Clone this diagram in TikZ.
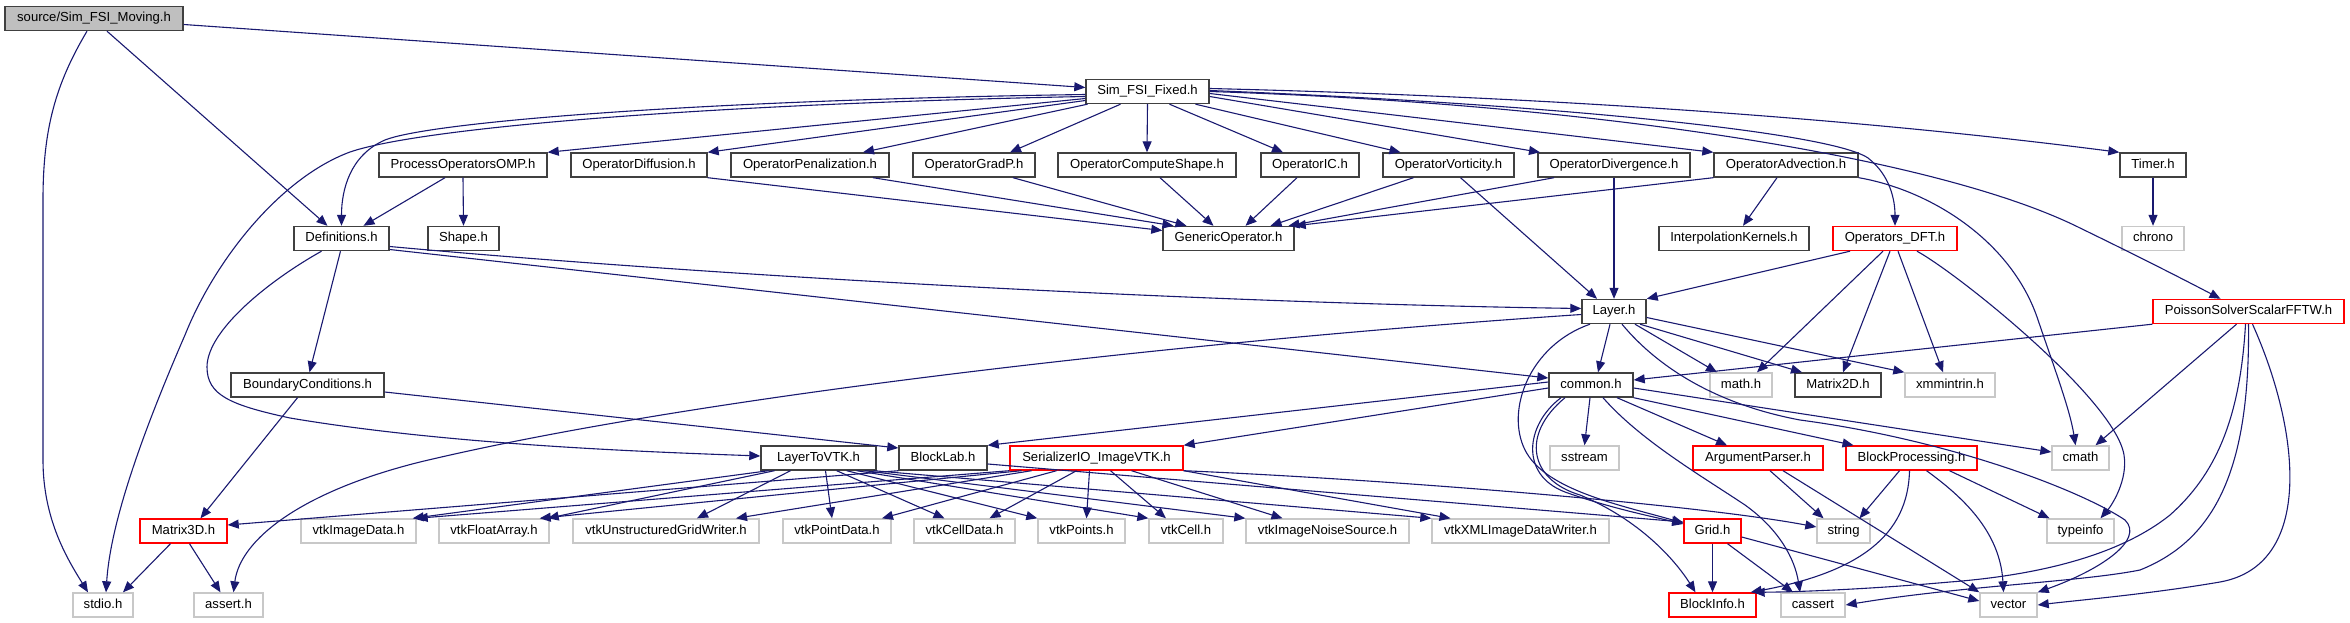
\documentclass[tikz,border=0pt]{standalone}
\usepackage{fontspec}
\setmainfont{Liberation Sans}
\usetikzlibrary{arrows.meta}
\definecolor{edgec}{RGB}{25,25,112}
\definecolor{bordc}{RGB}{64,64,64}
\definecolor{rootfill}{RGB}{191,191,191}
\definecolor{lightc}{RGB}{200,200,200}
\begin{document}
\begin{tikzpicture}[x=1pt,y=-1pt,
  nb/.style={draw=bordc, line width=1.4pt, fill=white, minimum height=24pt, inner sep=0pt,
    font=\fontsize{13.1pt}{15pt}\selectfont, text height=9.6pt, text depth=2.8pt},
  ng/.style={nb, draw=lightc},
  nr/.style={nb, draw=red},
  dep/.style={draw=edgec, line width=1.1pt, -{Triangle[length=11pt,width=9pt]}}]
\useasboundingbox (0,0) rectangle (2350,623);
% row 0-1
\node[nb,fill=rootfill,minimum width=178pt] (M) at (94,18.5) {source/Sim\_FSI\_Moving.h};
\node[nb,minimum width=123pt] (F) at (1147.5,91.5) {Sim\_FSI\_Fixed.h};
% row 2
\node[nb,minimum width=168pt] (pom) at (463,165) {ProcessOperatorsOMP.h};
\node[nb,minimum width=136pt] (odiff) at (639,165) {OperatorDiffusion.h};
\node[nb,minimum width=158pt] (open) at (810,165) {OperatorPenalization.h};
\node[nb,minimum width=122pt] (ograd) at (974,165) {OperatorGradP.h};
\node[nb,minimum width=178pt] (ocomp) at (1147,165) {OperatorComputeShape.h};
\node[nb,minimum width=98pt] (oic) at (1310,165) {OperatorIC.h};
\node[nb,minimum width=131pt] (ovort) at (1448.5,165) {OperatorVorticity.h};
\node[nb,minimum width=152pt] (odiv) at (1614,165) {OperatorDivergence.h};
\node[nb,minimum width=144pt] (oadv) at (1786,165) {OperatorAdvection.h};
\node[nb,minimum width=66pt] (timer) at (2153,165) {Timer.h};
% row 3
\node[nb,minimum width=95pt] (defs) at (341.5,238.5) {Definitions.h};
\node[nb,minimum width=71pt] (shape) at (463.5,238.5) {Shape.h};
\node[nb,minimum width=131pt] (gen) at (1228.5,238.5) {GenericOperator.h};
\node[nb,minimum width=150pt] (interp) at (1734,238.5) {InterpolationKernels.h};
\node[nr,minimum width=124pt] (dft) at (1895,238.5) {Operators\_DFT.h};
\node[ng,minimum width=62pt] (chrono) at (2153,238.5) {chrono};
% row 4
\node[nb,minimum width=64pt] (layer) at (1614,311.5) {Layer.h};
\node[nr,minimum width=191pt] (poisson) at (2248.5,311.5) {PoissonSolverScalarFFTW.h};
% row 5
\node[nb,minimum width=153pt] (bc) at (307.5,385) {BoundaryConditions.h};
\node[nb,minimum width=84pt] (common) at (1591,385) {common.h};
\node[ng,minimum width=62pt] (math) at (1741,385) {math.h};
\node[nb,minimum width=86pt] (m2d) at (1838,385) {Matrix2D.h};
\node[ng,minimum width=90pt] (xmm) at (1950,385) {xmmintrin.h};
% row 6
\node[nb,minimum width=115pt] (l2vtk) at (818.5,458) {LayerToVTK.h};
\node[nb,minimum width=88pt] (blocklab) at (943,458) {BlockLab.h};
\node[nr,minimum width=173pt] (ser) at (1096.5,458) {SerializerIO\_ImageVTK.h};
\node[ng,minimum width=69pt] (sstream) at (1584.5,458) {sstream};
\node[nr,minimum width=130pt] (argp) at (1758,458) {ArgumentParser.h};
\node[nr,minimum width=131pt] (bproc) at (1911.5,458) {BlockProcessing.h};
\node[ng,minimum width=57pt] (cmath) at (2080.5,458) {cmath};
% row 7
\node[nr,minimum width=87pt] (m3d) at (183.5,531) {Matrix3D.h};
\node[ng,minimum width=115pt] (vimg) at (358.5,531) {vtkImageData.h};
\node[ng,minimum width=110pt] (vfloat) at (494,531) {vtkFloatArray.h};
\node[ng,minimum width=186pt] (vugw) at (666,531) {vtkUnstructuredGridWriter.h};
\node[ng,minimum width=108pt] (vpd) at (837,531) {vtkPointData.h};
\node[ng,minimum width=101pt] (vcd) at (964.5,531) {vtkCellData.h};
\node[ng,minimum width=87pt] (vpts) at (1081.5,531) {vtkPoints.h};
\node[ng,minimum width=74pt] (vcell) at (1186,531) {vtkCell.h};
\node[ng,minimum width=163pt] (vins) at (1327.5,531) {vtkImageNoiseSource.h};
\node[ng,minimum width=177pt] (vxml) at (1520.5,531) {vtkXMLImageDataWriter.h};
\node[nr,minimum width=57pt] (grid) at (1712.5,531) {Grid.h};
\node[ng,minimum width=53pt] (string) at (1843.5,531) {string};
\node[ng,minimum width=67pt] (typeinfo) at (2080.5,531) {typeinfo};
% row 8
\node[ng,minimum width=60pt] (stdio) at (103,605) {stdio.h};
\node[ng,minimum width=69pt] (assert) at (228.5,605) {assert.h};
\node[nr,minimum width=87pt] (binfo) at (1712.5,605) {BlockInfo.h};
\node[ng,minimum width=64pt] (cassert) at (1813,605) {cassert};
\node[ng,minimum width=57pt] (vector) at (2008.5,605) {vector};

% ---- edges ----
\draw[dep] ([yshift=-6pt]M.east) -- ([yshift=4pt]F.west);
\draw[dep] ([xshift=13pt]M.south) -- ([xshift=-14pt]defs.north);
\draw[dep] ([xshift=-7pt]M.south) .. controls (55,85) and (43,130) .. (43,200) -- (43,460) .. controls (43,520) and (68,560) .. ([xshift=-15pt]stdio.north);
\draw[dep] ([yshift=-3pt]F.west) .. controls (700,100) and (430,122) .. (385,140) .. controls (350,155) and (341.5,190) .. (defs.north);
\draw[dep] ([yshift=-5pt]F.west) .. controls (700,104) and (420,128) .. (350,152) .. controls (280,178) and (215,260) .. (185,335) .. controls (135,450) and (110,530) .. ([xshift=3pt]stdio.north);
\draw[dep] ([yshift=-7pt]F.west) -- (pom.north east);
\draw[dep] ([yshift=-9pt]F.west) -- (odiff.north east);
\draw[dep] ([xshift=-60pt]F.south) -- ([xshift=53pt]open.north);
\draw[dep] ([xshift=-27pt]F.south) -- ([xshift=36pt]ograd.north);
\draw[dep] (F.south) -- (ocomp.north);
\draw[dep] ([xshift=22pt]F.south) -- ([xshift=-27pt]oic.north);
\draw[dep] ([xshift=48pt]F.south) -- ([xshift=-48pt]ovort.north);
\draw[dep] ([yshift=-5pt]F.east) -- ([xshift=-74pt]odiv.north);
\draw[dep] ([yshift=-2pt]F.east) -- (oadv.north west);
\draw[dep] ([yshift=1pt]F.east) .. controls (1550,104) and (1830,132) .. (1868,158) .. controls (1890,175) and (1895,200) .. (dft.north);
\draw[dep] ([yshift=3pt]F.east) .. controls (1600,98) and (1900,124) .. (timer.north west);
\draw[dep] (F.east) .. controls (1600,104) and (1940,158) .. (2080,228) .. controls (2150,262) and (2200,288) .. ([xshift=-28pt]poisson.north);
\draw[dep] ([xshift=-18pt]pom.south) -- ([xshift=22pt]defs.north);
\draw[dep] (pom.south) -- (shape.north);
\draw[dep] (odiff.south east) -- ([yshift=8pt]gen.west);
\draw[dep] ([xshift=63pt]open.south) -- ([xshift=-55pt]gen.north);
\draw[dep] ([xshift=39pt]ograd.south) -- ([xshift=-42pt]gen.north);
\draw[dep] ([xshift=13pt]ocomp.south) -- ([xshift=-15pt]gen.north);
\draw[dep] ([xshift=-13pt]oic.south) -- ([xshift=17pt]gen.north);
\draw[dep] ([xshift=-35pt]ovort.south) -- ([xshift=42pt]gen.north);
\draw[dep] ([xshift=-60pt]odiv.south) -- ([xshift=60pt]gen.north);
\draw[dep] (oadv.south west) -- (gen.north east);
\draw[dep] ([xshift=12pt]ovort.south) -- ([xshift=-17pt]layer.north);
\draw[dep] (odiv.south) -- (layer.north);
\draw[dep] ([xshift=-9pt]oadv.south) -- ([xshift=9pt]interp.north);
\draw[dep] (oadv.south east) .. controls (1930,190) and (2010,240) .. (2037,317) .. controls (2055,370) and (2070,410) .. ([xshift=-5pt]cmath.north);
\draw[dep] (timer.south) -- (chrono.north);
\draw[dep] ([xshift=-45pt]dft.south) -- (layer.north east);
\draw[dep] ([xshift=-12pt]dft.south) -- ([xshift=16pt]math.north);
\draw[dep] ([xshift=-5pt]dft.south) -- ([xshift=5pt]m2d.north);
\draw[dep] ([xshift=3pt]dft.south) -- ([xshift=-7pt]xmm.north);
\draw[dep] ([xshift=22pt]dft.south) .. controls (1960,275) and (2115,400) .. (2124,455) .. controls (2128,480) and (2112,505) .. ([xshift=20pt]typeinfo.north);
\draw[dep] ([yshift=-8pt]defs.east) .. controls (700,275) and (1200,303) .. ([yshift=3pt]layer.west);
\draw[dep] ([yshift=-11pt]defs.east) -- ([yshift=7pt]common.west);
\draw[dep] ([xshift=-1pt]defs.south) -- ([xshift=2pt]bc.north);
\draw[dep] ([xshift=-20pt]defs.south) .. controls (270,280) and (207,330) .. (207,367) .. controls (207,395) and (230,405) .. (290,418) .. controls (450,445) and (650,452) .. ([yshift=2pt]l2vtk.west);
\draw[dep] ([xshift=-10pt]bc.south) -- ([xshift=17pt]m3d.north);
\draw[dep] ([yshift=-7pt]bc.east) -- ([yshift=10pt]blocklab.west);
\draw[dep] ([yshift=-3pt]layer.west) .. controls (1200,340) and (700,395) .. (420,462) .. controls (300,492) and (240,540) .. ([xshift=5pt]assert.north);
\draw[dep] ([xshift=-4pt]layer.south) -- ([xshift=7pt]common.north);
\draw[dep] ([xshift=21pt]layer.south) -- ([xshift=-24pt]math.north);
\draw[dep] ([xshift=26pt]layer.south) -- ([xshift=-36pt]m2d.north);
\draw[dep] ([yshift=-6pt]layer.east) -- (xmm.north west);
\draw[dep] ([xshift=8pt]layer.south) .. controls (1660,370) and (1720,405) .. (1800,420) .. controls (1950,440) and (2080,490) .. (2125,520) .. controls (2145,540) and (2100,570) .. (vector.north east);
\draw[dep] ([xshift=-24pt]layer.south) .. controls (1530,345) and (1505,410) .. (1525,450) .. controls (1545,490) and (1620,505) .. ([yshift=8pt]grid.west);
\draw[dep] ([yshift=3pt]common.west) -- (blocklab.north east);
\draw[dep] ([yshift=-3pt]common.west) -- (ser.north east);
\draw[dep] ([xshift=-1pt]common.south) -- (sstream.north);
\draw[dep] ([xshift=26pt]common.south) -- ([xshift=-31pt]argp.north);
\draw[dep] (common.south east) -- ([xshift=-58pt]bproc.north);
\draw[dep] ([yshift=-3pt]common.east) -- ([yshift=6pt]cmath.west);
\draw[dep] ([xshift=12pt]common.south) .. controls (1640,440) and (1700,475) .. (1745,505) .. controls (1780,530) and (1795,560) .. ([xshift=-13pt]cassert.north);
\draw[dep] ([xshift=-30pt]common.south) .. controls (1525,425) and (1520,475) .. (1565,492) .. controls (1610,508) and (1650,516) .. ([yshift=7pt]grid.west);
\draw[dep] ([xshift=-26pt]common.south) .. controls (1520,435) and (1530,480) .. (1580,495) .. controls (1640,520) and (1675,560) .. ([xshift=-17pt]binfo.north);
\draw[dep] (poisson.south west) -- ([yshift=5pt]common.east);
\draw[dep] ([xshift=-12pt]poisson.south) -- ([xshift=15pt]cmath.north);
\draw[dep] ([xshift=-3pt]poisson.south) .. controls (2240,420) and (2215,475) .. (2170,515) .. controls (2120,555) and (2040,575) .. (1950,582) .. controls (1860,590) and (1790,592) .. ([xshift=-3pt]binfo.north east);
\draw[dep] (poisson.south) .. controls (2250,470) and (2215,540) .. (2140,570) .. controls (2080,582) and (1960,586) .. (cassert.east);
\draw[dep] ([xshift=4pt]poisson.south) .. controls (2300,430) and (2315,565) .. (2220,582) .. controls (2150,594) and (2080,600) .. (vector.east);
\draw[dep] (grid.south) -- (binfo.north);
\draw[dep] ([xshift=15pt]grid.south) -- ([xshift=-20pt]cassert.north);
\draw[dep] ([yshift=-6pt]grid.east) -- ([yshift=4pt]vector.west);
\draw[dep] ([xshift=-12pt]bproc.south) -- ([xshift=16pt]string.north);
\draw[dep] ([xshift=-2pt]bproc.south) .. controls (1908,535) and (1860,572) .. ([xshift=-6pt]binfo.north east);
\draw[dep] ([xshift=15pt]bproc.south) .. controls (1960,495) and (2000,530) .. ([xshift=-5pt]vector.north);
\draw[dep] ([xshift=38pt]bproc.south) -- ([xshift=-31pt]typeinfo.north);
\draw[dep] ([xshift=12pt]argp.south) -- ([xshift=-20pt]string.north);
\draw[dep] ([xshift=25pt]argp.south) -- (vector.north west);
\draw[dep] (ser.south east) .. controls (1400,480) and (1700,505) .. ([yshift=4pt]string.west);
\draw[dep] ([yshift=-6pt]blocklab.east) -- ([yshift=9pt]grid.west);
\draw[dep] (blocklab.south west) -- ([yshift=6pt]m3d.east);
% LayerToVTK
\draw[dep] ([xshift=-50pt]l2vtk.south) -- ([xshift=-4pt]vimg.north east);
\draw[dep] ([xshift=-44pt]l2vtk.south) -- ([xshift=-2pt]vfloat.north east);
\draw[dep] ([xshift=-28pt]l2vtk.south) -- ([xshift=31pt]vugw.north);
\draw[dep] ([xshift=7pt]l2vtk.south) -- ([xshift=-5pt]vpd.north);
\draw[dep] ([xshift=-40pt]l2vtk.south east) -- ([xshift=-20pt]vcd.north);
\draw[dep] ([xshift=-30pt]l2vtk.south east) -- (vpts.north west);
\draw[dep] ([xshift=-20pt]l2vtk.south east) -- (vcell.north west);
\draw[dep] ([xshift=-12pt]l2vtk.south east) -- (vins.north west);
\draw[dep] ([xshift=-3pt]l2vtk.south east) -- (vxml.north west);
% SerializerIO
\draw[dep] (ser.south west) -- (vimg.north east);
\draw[dep] ([xshift=-75pt]ser.south) -- ([xshift=-10pt]vfloat.north east);
\draw[dep] ([xshift=-65pt]ser.south) -- ([xshift=70pt]vugw.north);
\draw[dep] ([xshift=-40pt]ser.south) -- ([xshift=45pt]vpd.north);
\draw[dep] ([xshift=-20pt]ser.south) -- ([xshift=25pt]vcd.north);
\draw[dep] ([xshift=-7pt]ser.south) -- ([xshift=5pt]vpts.north);
\draw[dep] ([xshift=14pt]ser.south) -- ([xshift=-20pt]vcell.north);
\draw[dep] ([xshift=35pt]ser.south) -- ([xshift=-45pt]vins.north);
\draw[dep] (ser.south east) -- ([xshift=-70pt]vxml.north);
% Matrix3D
\draw[dep] ([xshift=-13pt]m3d.south) -- ([xshift=20pt]stdio.north);
\draw[dep] ([xshift=6pt]m3d.south) -- ([xshift=-8pt]assert.north);
\end{tikzpicture}
\end{document}
